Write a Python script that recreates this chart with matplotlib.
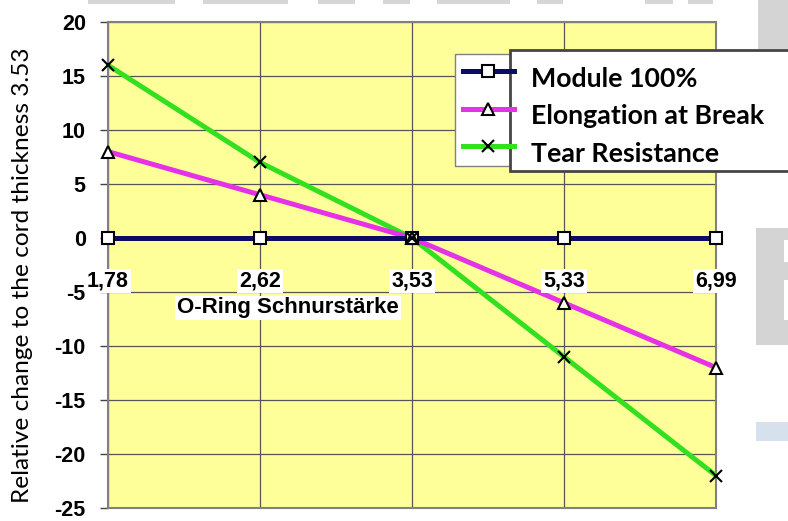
import numpy as np
import matplotlib
matplotlib.use('Agg')
import matplotlib.pyplot as plt
from matplotlib.patches import Rectangle
from matplotlib.lines import Line2D
from matplotlib.legend_handler import HandlerLine2D

plt.rcParams['axes.unicode_minus'] = False

# data
thickness = ['1,78', '2,62', '3,53', '5,33', '6,99']
module_100 = [0, 0, 0, 0, 0]
elongation = [8, 4, 0, -6, -12]
tear = [16, 7, 0, -11, -22]
series_names = ['Module 100%', 'Elongation at Break', 'Tear Resistance']
y_ticks = [-25, -20, -15, -10, -5, 0, 5, 10, 15, 20]

W, H = 788, 521
fig = plt.figure(figsize=(W / 100, H / 100), dpi=100)
fig.patch.set_facecolor('white')


def px_rect(x0, y0, x1, y1, **kw):
    # box given in image pixels (origin top left) -> figure rectangle
    r = Rectangle((x0 / W, 1 - y1 / H), (x1 - x0) / W, (y1 - y0) / H,
                  transform=fig.transFigure, **kw)
    fig.add_artist(r)
    return r


# page background bits around the chart
for x0, x1 in [(88, 175), (203, 288), (318, 355), (383, 410), (437, 510), (537, 563), (645, 673), (688, 713)]:
    px_rect(x0, 0, x1, 4, fc='#d6d6d6', ec='none', zorder=0.5)
px_rect(758, 0, 790, 49, fc='#d4d4d4', ec='none', zorder=0.5)
px_rect(756, 228, 790, 345, fc='#d4d4d4', ec='none', zorder=0.5)
px_rect(784, 240, 790, 262, fc='white', ec='none', zorder=0.6)
px_rect(784, 280, 790, 320, fc='white', ec='none', zorder=0.6)
px_rect(756, 422, 790, 441, fc='#d7e1ee', ec='none', zorder=0.5)

ax = fig.add_axes([108 / W, 1 - 508 / H, 608 / W, 486 / H])
ax.set_facecolor('#ffff99')

x = np.arange(len(thickness))
colors = ['#0c0c66', '#e632e6', '#33e01f']
markers = ['s', '^', 'x']
series = [module_100, elongation, tear]

line_z = [5, 4, 3]
for vals, c, z in zip(series, colors, line_z):
    ax.plot(x, vals, color=c, lw=3.6, zorder=z, clip_on=False, solid_capstyle='butt')
for vals, m in zip(series, markers):
    if m == 'x':
        ax.plot(x, vals, ls='none', marker=m, ms=9, mec='black', mew=1.5, zorder=7, clip_on=False)
    else:
        ax.plot(x, vals, ls='none', marker=m, ms=8, mfc='white', mec='black', mew=1.5, zorder=6, clip_on=False)

ax.set_xlim(0, len(thickness) - 1)
ax.set_ylim(-25, 20)
ax.set_xticks(x)
ax.set_xticklabels([])
ax.set_yticks(y_ticks)
ax.grid(True, color='#555555', lw=0.9)
ax.set_axisbelow(True)
ax.tick_params(axis='x', length=0)
ax.tick_params(axis='y', direction='out', length=6, width=1, color='#444444', pad=10,
               labelsize=15.5)
for lab in ax.get_yticklabels():
    lab.set_fontfamily('Liberation Sans')
    lab.set_fontweight('bold')
for sp in ax.spines.values():
    sp.set_color('#808080')
    sp.set_linewidth(1.5)

# category labels sit just under the zero line
for i, lab in enumerate(thickness):
    ax.annotate(lab, xy=(i, 0), xytext=(0, -43), textcoords='offset pixels',
                ha='center', va='center', fontsize=15.5, fontweight='bold',
                fontfamily='Liberation Sans', zorder=8,
                bbox=dict(boxstyle='square,pad=0.08', fc='white', ec='none'))

ax.text((177 - 108) / 608, (508 - 308) / 486, 'O-Ring Schnurstärke', transform=ax.transAxes,
        ha='left', va='center', fontsize=16, fontweight='bold', fontfamily='Liberation Sans',
        zorder=8, bbox=dict(boxstyle='square,pad=0.08', fc='white', ec='none'))

ax.set_ylabel('Relative change to the cord thickness 3.53', fontsize=17.6, fontfamily='Lato')
ax.yaxis.label.set_va('center')
ax.yaxis.set_label_coords((23 - 108) / 608, (508 - 275) / 486)

# legend frame and the text box pasted over it
px_rect(455, 54, 520, 166, fc='white', ec='#808080', lw=1, zorder=1)
px_rect(510, 50, 800, 171, fc='white', ec='#454545', lw=2, zorder=2)


class RaisedLine(HandlerLine2D):
    def create_artists(self, legend, orig_handle, xdescent, ydescent, width, height, fontsize, trans):
        arts = super().create_artists(legend, orig_handle, xdescent, ydescent, width, height, fontsize, trans)
        for a in arts:
            a.set_ydata(np.asarray(a.get_ydata()) + 4.5)
        return arts


handles = []
for c, m in zip(colors, markers):
    if m == 'x':
        handles.append(Line2D([], [], color=c, lw=3.6, marker=m, ms=9, mec='black', mew=1.5))
    else:
        handles.append(Line2D([], [], color=c, lw=3.6, marker=m, ms=8, mfc='white', mec='black', mew=1.5))

leg = fig.legend(handles, series_names, loc='upper left', bbox_to_anchor=(463 / W, 1 - 67 / H),
                 frameon=False, borderpad=0, borderaxespad=0, handlelength=1.9,
                 handletextpad=0.62, labelspacing=0.5, numpoints=1,
                 handler_map={Line2D: RaisedLine()},
                 prop={'family': 'Lato', 'weight': 'bold', 'size': 19.3})
leg.set_zorder(5)

fig.savefig('out.png', dpi=100)
